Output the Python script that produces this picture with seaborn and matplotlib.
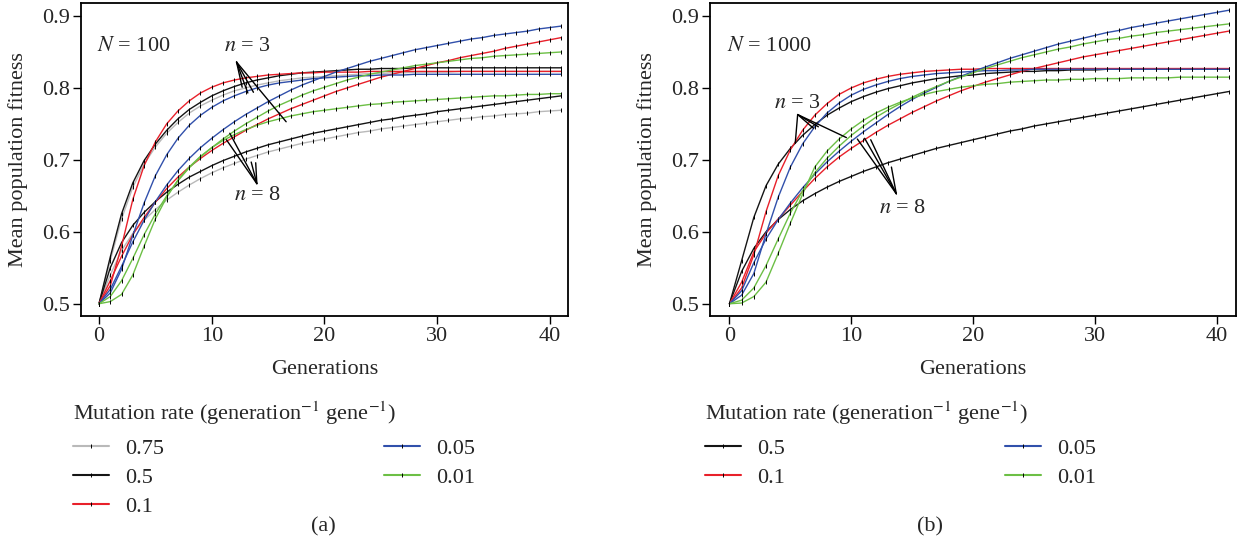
import numpy as np
import pandas as pd
import seaborn as sns
import matplotlib.pyplot as plt
from matplotlib.lines import Line2D

# mean population fitness per generation
# panel (a): N = 100
a_075_n3 = [0.500, 0.560, 0.618, 0.662, 0.694, 0.718, 0.737, 0.752, 0.765, 0.775,
            0.783, 0.790, 0.796, 0.800, 0.804, 0.807, 0.810, 0.812, 0.814, 0.815,
            0.816, 0.817, 0.818, 0.819, 0.820, 0.820, 0.821, 0.821, 0.822, 0.822,
            0.822, 0.822, 0.823, 0.823, 0.823, 0.823, 0.823, 0.823, 0.823, 0.823,
            0.823, 0.823]
a_05_n3 = [0.500, 0.565, 0.625, 0.668, 0.699, 0.722, 0.741, 0.757, 0.770, 0.780,
           0.789, 0.796, 0.802, 0.807, 0.811, 0.814, 0.817, 0.819, 0.821, 0.822,
           0.823, 0.824, 0.825, 0.826, 0.826, 0.827, 0.827, 0.827, 0.828, 0.828,
           0.828, 0.828, 0.828, 0.828, 0.828, 0.828, 0.828, 0.828, 0.828, 0.828,
           0.828, 0.828]
a_01_n3 = [0.500, 0.525, 0.580, 0.645, 0.692, 0.725, 0.750, 0.768, 0.782, 0.793,
           0.801, 0.807, 0.811, 0.814, 0.816, 0.818, 0.819, 0.820, 0.821, 0.821,
           0.822, 0.822, 0.822, 0.822, 0.823, 0.823, 0.823, 0.823, 0.823, 0.823,
           0.823, 0.823, 0.823, 0.823, 0.823, 0.823, 0.823, 0.823, 0.823, 0.823,
           0.823, 0.823]
a_005_n3 = [0.500, 0.515, 0.548, 0.595, 0.640, 0.678, 0.707, 0.730, 0.748, 0.762,
            0.773, 0.782, 0.789, 0.795, 0.800, 0.804, 0.807, 0.809, 0.811, 0.813,
            0.814, 0.815, 0.816, 0.817, 0.817, 0.818, 0.818, 0.818, 0.819, 0.819,
            0.819, 0.819, 0.819, 0.819, 0.819, 0.819, 0.819, 0.819, 0.819, 0.819,
            0.819, 0.819]
a_001_n3 = [0.500, 0.503, 0.513, 0.540, 0.580, 0.618, 0.648, 0.672, 0.690, 0.705,
            0.717, 0.727, 0.735, 0.742, 0.748, 0.753, 0.757, 0.761, 0.764, 0.767,
            0.769, 0.771, 0.773, 0.775, 0.777, 0.778, 0.780, 0.781, 0.782, 0.783,
            0.784, 0.785, 0.786, 0.787, 0.788, 0.789, 0.789, 0.790, 0.791, 0.791,
            0.792, 0.792]
a_075_n8 = [0.500, 0.540, 0.574, 0.598, 0.616, 0.631, 0.644, 0.655, 0.665, 0.674,
            0.682, 0.689, 0.695, 0.701, 0.706, 0.711, 0.715, 0.719, 0.723, 0.726,
            0.729, 0.732, 0.735, 0.738, 0.740, 0.743, 0.745, 0.747, 0.749, 0.751,
            0.753, 0.755, 0.757, 0.758, 0.760, 0.761, 0.763, 0.764, 0.765, 0.767,
            0.768, 0.769]
a_05_n8 = [0.500, 0.550, 0.585, 0.609, 0.627, 0.642, 0.655, 0.666, 0.676, 0.684,
           0.692, 0.699, 0.705, 0.711, 0.716, 0.721, 0.725, 0.729, 0.733, 0.737,
           0.740, 0.743, 0.746, 0.749, 0.752, 0.755, 0.757, 0.760, 0.762, 0.764,
           0.767, 0.769, 0.771, 0.773, 0.775, 0.777, 0.779, 0.781, 0.783, 0.785,
           0.787, 0.789]
a_01_n8 = [0.500, 0.532, 0.566, 0.596, 0.620, 0.641, 0.660, 0.676, 0.690, 0.702,
           0.713, 0.723, 0.732, 0.741, 0.749, 0.757, 0.764, 0.771, 0.777, 0.783,
           0.789, 0.795, 0.800, 0.805, 0.810, 0.815, 0.819, 0.823, 0.827, 0.831,
           0.835, 0.838, 0.842, 0.845, 0.848, 0.851, 0.855, 0.858, 0.861, 0.864,
           0.867, 0.870]
a_005_n8 = [0.500, 0.520, 0.552, 0.586, 0.616, 0.642, 0.665, 0.685, 0.702, 0.717,
            0.730, 0.742, 0.753, 0.763, 0.772, 0.781, 0.789, 0.797, 0.804, 0.810,
            0.816, 0.822, 0.827, 0.832, 0.837, 0.841, 0.845, 0.849, 0.853, 0.856,
            0.859, 0.862, 0.865, 0.868, 0.870, 0.873, 0.875, 0.877, 0.879, 0.882,
            0.884, 0.886]
a_001_n8 = [0.500, 0.510, 0.532, 0.563, 0.596, 0.625, 0.650, 0.671, 0.689, 0.704,
            0.717, 0.729, 0.740, 0.750, 0.759, 0.768, 0.776, 0.783, 0.790, 0.796,
            0.801, 0.806, 0.811, 0.815, 0.819, 0.822, 0.825, 0.828, 0.831, 0.833,
            0.835, 0.837, 0.839, 0.841, 0.842, 0.844, 0.845, 0.846, 0.847, 0.848,
            0.849, 0.850]

# panel (b): N = 1000
b_05_n3 = [0.500, 0.560, 0.620, 0.664, 0.694, 0.716, 0.734, 0.749, 0.762, 0.772,
           0.781, 0.788, 0.794, 0.799, 0.803, 0.807, 0.810, 0.813, 0.815, 0.817,
           0.818, 0.820, 0.821, 0.822, 0.823, 0.823, 0.824, 0.824, 0.825, 0.825,
           0.825, 0.826, 0.826, 0.826, 0.826, 0.826, 0.826, 0.826, 0.826, 0.826,
           0.826, 0.826]
b_01_n3 = [0.500, 0.522, 0.568, 0.628, 0.678, 0.714, 0.741, 0.762, 0.778, 0.791,
           0.800, 0.807, 0.812, 0.816, 0.819, 0.821, 0.823, 0.824, 0.825, 0.826,
           0.826, 0.827, 0.827, 0.827, 0.827, 0.827, 0.827, 0.827, 0.827, 0.827,
           0.827, 0.827, 0.827, 0.827, 0.827, 0.827, 0.827, 0.827, 0.827, 0.827,
           0.827, 0.827]
b_005_n3 = [0.500, 0.512, 0.542, 0.597, 0.648, 0.690, 0.722, 0.746, 0.765, 0.779,
            0.790, 0.798, 0.804, 0.809, 0.813, 0.816, 0.818, 0.820, 0.821, 0.822,
            0.823, 0.824, 0.824, 0.825, 0.825, 0.826, 0.826, 0.826, 0.826, 0.826,
            0.826, 0.826, 0.826, 0.826, 0.826, 0.826, 0.826, 0.826, 0.826, 0.826,
            0.826, 0.826]
b_001_n3 = [0.500, 0.501, 0.510, 0.530, 0.570, 0.612, 0.652, 0.690, 0.712, 0.729,
            0.743, 0.755, 0.765, 0.773, 0.780, 0.786, 0.791, 0.795, 0.798, 0.801,
            0.803, 0.805, 0.806, 0.808, 0.809, 0.810, 0.811, 0.811, 0.812, 0.812,
            0.813, 0.813, 0.813, 0.814, 0.814, 0.814, 0.814, 0.815, 0.815, 0.815,
            0.815, 0.815]
b_05_n8 = [0.500, 0.545, 0.577, 0.600, 0.617, 0.631, 0.643, 0.653, 0.662, 0.670,
           0.677, 0.684, 0.690, 0.696, 0.701, 0.706, 0.711, 0.716, 0.720, 0.724,
           0.728, 0.732, 0.736, 0.740, 0.743, 0.747, 0.750, 0.753, 0.756, 0.759,
           0.762, 0.765, 0.768, 0.771, 0.774, 0.777, 0.780, 0.783, 0.786, 0.789,
           0.792, 0.795]
b_01_n8 = [0.500, 0.530, 0.572, 0.598, 0.618, 0.637, 0.656, 0.674, 0.690, 0.704,
           0.716, 0.727, 0.738, 0.748, 0.757, 0.766, 0.774, 0.782, 0.789, 0.796,
           0.802, 0.808, 0.813, 0.818, 0.823, 0.827, 0.831, 0.835, 0.839, 0.843,
           0.846, 0.849, 0.852, 0.855, 0.858, 0.861, 0.864, 0.867, 0.870, 0.873,
           0.876, 0.879]
b_005_n8 = [0.500, 0.518, 0.557, 0.590, 0.617, 0.640, 0.661, 0.680, 0.697, 0.712,
            0.726, 0.739, 0.751, 0.763, 0.774, 0.784, 0.793, 0.801, 0.809, 0.816,
            0.823, 0.829, 0.835, 0.841, 0.846, 0.851, 0.856, 0.861, 0.865, 0.869,
            0.873, 0.877, 0.880, 0.884, 0.887, 0.890, 0.893, 0.896, 0.899, 0.902,
            0.905, 0.908]
b_001_n8 = [0.500, 0.505, 0.522, 0.553, 0.590, 0.626, 0.657, 0.682, 0.702, 0.719,
            0.734, 0.747, 0.759, 0.769, 0.778, 0.787, 0.795, 0.802, 0.809, 0.815,
            0.821, 0.827, 0.832, 0.837, 0.842, 0.846, 0.850, 0.854, 0.857, 0.861,
            0.864, 0.867, 0.869, 0.872, 0.874, 0.877, 0.879, 0.881, 0.883, 0.885,
            0.887, 0.889]

rate_colors = {"0.75": "#b9b9b9", "0.5": "#151515", "0.1": "#e8202a",
               "0.05": "#3150ab", "0.01": "#6cbf45"}

panel_a = {("0.75", 3): a_075_n3, ("0.5", 3): a_05_n3, ("0.1", 3): a_01_n3,
           ("0.05", 3): a_005_n3, ("0.01", 3): a_001_n3,
           ("0.75", 8): a_075_n8, ("0.5", 8): a_05_n8, ("0.1", 8): a_01_n8,
           ("0.05", 8): a_005_n8, ("0.01", 8): a_001_n8}
panel_b = {("0.5", 3): b_05_n3, ("0.1", 3): b_01_n3, ("0.05", 3): b_005_n3,
           ("0.01", 3): b_001_n3,
           ("0.5", 8): b_05_n8, ("0.1", 8): b_01_n8, ("0.05", 8): b_005_n8,
           ("0.01", 8): b_001_n8}


def to_long(panel):
    rows = []
    for (rate, n), vals in panel.items():
        for g, v in enumerate(vals):
            rows.append({"gen": g, "fitness": v, "rate": rate, "n": n})
    return pd.DataFrame(rows)


sns.set_style("ticks")
plt.rcParams["font.family"] = ["Liberation Serif", "DejaVu Serif"]
plt.rcParams["mathtext.fontset"] = "stix"
FS = 16

fig = plt.figure(figsize=(12.38, 5.48), dpi=100)
ax_a = fig.add_axes([0.0654, 0.4234, 0.3934, 0.571])
ax_b = fig.add_axes([0.5735, 0.4234, 0.4249, 0.571])

leg_title = r"Mutation rate (generation$^{-1}$ gene$^{-1}$)"

for ax, panel, rates, ylab_x, leg_x, cap_x, cap in [
        (ax_a, panel_a, ["0.75", "0.5", "0.1", "0.05", "0.01"], -0.109, 73, 323, "(a)"),
        (ax_b, panel_b, ["0.5", "0.1", "0.05", "0.01"], -0.101, 705, 930, "(b)")]:
    df = to_long(panel)
    sns.lineplot(data=df, x="gen", y="fitness", hue="rate", units="n",
                 estimator=None, palette=rate_colors, hue_order=rates,
                 ax=ax, legend=False, lw=1.0, marker="|", markersize=3,
                 mec="black", mew=0.7)
    ax.set_xlim(-1.6, 41.6)
    ax.set_ylim(0.483, 0.918)
    ax.set_xticks([0, 10, 20, 30, 40])
    ax.set_yticks([0.5, 0.6, 0.7, 0.8, 0.9])
    ax.set_yticklabels(["0.5", "0.6", "0.7", "0.8", "0.9"])
    ax.tick_params(labelsize=FS, length=6, width=1.0, pad=2, color="black")
    for s in ax.spines.values():
        s.set_color("black")
        s.set_linewidth(1.3)
    ax.set_xlabel("Generations", fontsize=FS)
    ax.set_ylabel("Mean population fitness", fontsize=FS)
    ax.yaxis.set_label_coords(ylab_x, 0.5)
    ax.xaxis.set_label_coords(0.5, -0.14)

    handles = [Line2D([], [], color=rate_colors[r], lw=1.5, marker="|",
                      markersize=3, mec="black", mew=0.7) for r in rates]
    fig.text(leg_x / 1238, 1 - 413 / 548, leg_title, fontsize=FS,
             ha="left", va="center")
    fig.legend(handles, rates, loc="upper left",
               bbox_to_anchor=(leg_x / 1238, 1 - 438 / 548), ncol=2,
               frameon=False, borderpad=0, borderaxespad=0,
               columnspacing=9.9, handlelength=1.6, handletextpad=0.75,
               labelspacing=0.38, fontsize=FS)
    fig.text(cap_x / 1238, 1 - 527 / 548, cap, fontsize=FS,
             ha="center", va="center")

line_kw = dict(arrowstyle="-", shrinkA=0, shrinkB=0, lw=1.0, color="black")

# panel (a) annotations
ax_a.text(-0.2, 0.857, r"$N$ = 100", fontsize=FS, va="center")
ax_a.text(13.2, 0.857, r"$n$ = 3", fontsize=FS, va="center", ha="center")
for end in [(12.7, 0.801), (13.2, 0.793), (13.7, 0.794), (16.6, 0.753)]:
    ax_a.annotate("", xy=end, xytext=(12.2, 0.836), arrowprops=line_kw)
ax_a.text(14.1, 0.651, r"$n$ = 8", fontsize=FS, va="center", ha="center")
for end in [(11.6, 0.737), (11.3, 0.728), (13.5, 0.697), (13.9, 0.696)]:
    ax_a.annotate("", xy=end, xytext=(14.0, 0.667), arrowprops=line_kw)

# panel (b) annotations
ax_b.text(-0.2, 0.857, r"$N$ = 1000", fontsize=FS, va="center")
ax_b.text(5.6, 0.779, r"$n$ = 3", fontsize=FS, va="center", ha="center")
for end in [(5.4, 0.723), (6.9, 0.744), (7.3, 0.746), (9.6, 0.731)]:
    ax_b.annotate("", xy=end, xytext=(5.6, 0.763), arrowprops=line_kw)
ax_b.text(14.2, 0.632, r"$n$ = 8", fontsize=FS, va="center", ha="center")
for end in [(10.5, 0.729), (11.1, 0.730), (11.6, 0.728), (13.3, 0.690)]:
    ax_b.annotate("", xy=end, xytext=(13.7, 0.653), arrowprops=line_kw)

fig.savefig("out.png", dpi=100)
